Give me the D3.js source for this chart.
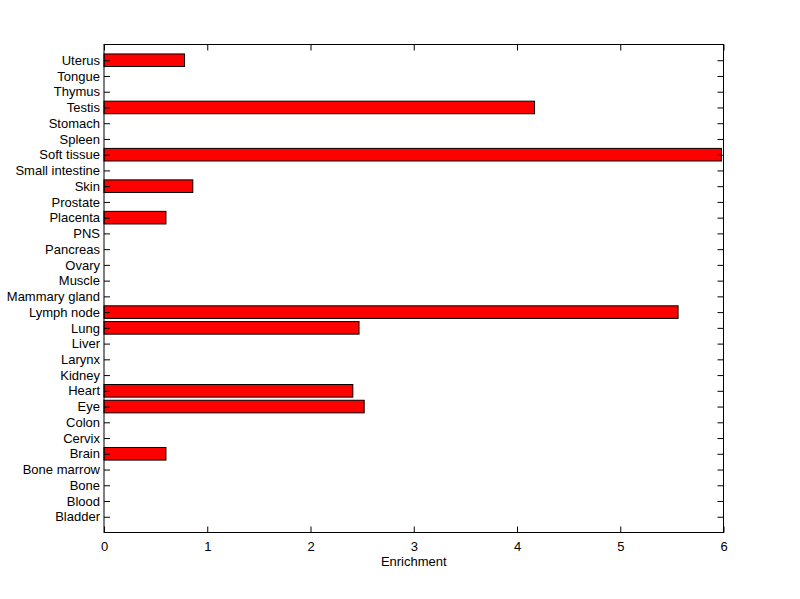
<!DOCTYPE html>
<html><head><meta charset="utf-8">
<script src="https://cdn.jsdelivr.net/npm/d3@7"></script>
<style>body{margin:0;background:#fff}svg{display:block}text{font-family:"Liberation Sans",Arial,sans-serif;font-size:13px;fill:#000}</style>
</head><body>
<script>
const categories = ["Bladder","Blood","Bone","Bone marrow","Brain","Cervix","Colon","Eye","Heart","Kidney","Larynx","Liver","Lung","Lymph node","Mammary gland","Muscle","Ovary","Pancreas","PNS","Placenta","Prostate","Skin","Small intestine","Soft tissue","Spleen","Stomach","Testis","Thymus","Tongue","Uterus"];
const values = [0,0,0,0,0.60,0,0,2.52,2.41,0,0,0,2.47,5.56,0,0,0,0,0,0.60,0,0.86,0,5.98,0,0,4.17,0,0,0.78];
const xTicks = [0,1,2,3,4,5,6];
const xLabel = "Enrichment";

const W=800,H=599, L=104, R=723.5, T=44.5, B=532.5;
const FS=13, FF="Liberation Sans, Arial, sans-serif";
const svg=d3.select("body").append("svg").attr("width",W).attr("height",H);
const x=d3.scaleLinear().domain([0,6]).range([L,R]);
const y=d3.scaleLinear().domain([0,categories.length+1]).range([B,T]);
const bh=(y(0)-y(0.8));

svg.append("g").selectAll("rect").data(values.map((v,i)=>({v,i}))).join("rect")
  .filter(d=>d.v>0)
  .attr("x",x(0)).attr("y",d=>y(d.i+1)-bh/2).attr("width",d=>x(d.v)-x(0)).attr("height",bh)
  .attr("fill","#ff0000").attr("stroke","#000").attr("stroke-width",1);

// frame
svg.append("rect").attr("x",L).attr("y",T).attr("width",R-L).attr("height",B-T)
  .attr("fill","none").attr("stroke","#000").attr("stroke-width",1);

const tl=6;
const xb=svg.append("g").attr("transform",`translate(0,${B})`)
  .call(d3.axisBottom(x).tickValues(xTicks).tickFormat(d3.format("d")).tickSizeInner(-tl).tickSizeOuter(0).tickPadding(9));
xb.select(".domain").remove();
xb.selectAll("text").attr("font-size",FS).attr("font-family",FF);
const xt=svg.append("g").attr("transform",`translate(0,${T})`)
  .call(d3.axisTop(x).tickValues(xTicks).tickFormat("").tickSizeInner(-tl).tickSizeOuter(0));
xt.select(".domain").remove();

const yl=svg.append("g").attr("transform",`translate(${L},0)`)
  .call(d3.axisLeft(y).tickValues(d3.range(1,categories.length+1)).tickFormat(d=>categories[d-1]).tickSizeInner(-tl).tickSizeOuter(0).tickPadding(4));
yl.select(".domain").remove();
yl.selectAll("text").attr("font-size",FS).attr("font-family",FF);
const yr=svg.append("g").attr("transform",`translate(${R},0)`)
  .call(d3.axisRight(y).tickValues(d3.range(1,categories.length+1)).tickFormat("").tickSizeInner(-tl).tickSizeOuter(0));
yr.select(".domain").remove();
svg.selectAll(".tick line").attr("stroke","#000");

svg.append("text").attr("x",(L+R)/2).attr("y",566).attr("text-anchor","middle").text(xLabel);
</script>
</body></html>
